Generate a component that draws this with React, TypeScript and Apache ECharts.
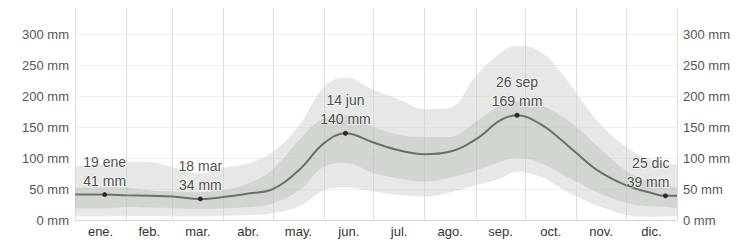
import React, { useEffect, useRef } from "react";
import * as echarts from "echarts";

const monthNames = ["ene.", "feb.", "mar.", "abr.", "may.", "jun.", "jul.", "ago.", "sep.", "oct.", "nov.", "dic."];
const monthStarts = [0, 31, 59, 90, 120, 151, 181, 212, 243, 273, 304, 334, 365];
const yTicks = [0, 50, 100, 150, 200, 250, 300];

const days = [0, 18, 31, 45, 59, 76, 90, 106, 120, 136, 151, 164, 181, 197, 212, 227, 243, 258, 268, 282, 294, 304, 318, 335, 349, 358, 365];
const median = [41, 41, 40, 39, 38, 34, 37, 43, 50, 81, 124, 140, 125, 112, 106, 110, 130, 161, 169, 155, 131, 108, 78, 55, 44, 39, 39];
const p90 = [87, 89, 94, 94, 85, 75, 84, 92, 110, 153, 215, 230, 210, 194, 179, 181, 232, 270, 281, 272, 240, 205, 156, 116, 97, 91, 89];
const p75 = [52, 53, 52, 48, 46, 45, 48, 60, 82, 129, 164, 169, 150, 137, 134, 134, 158, 185, 191, 185, 169, 150, 116, 78, 62, 56, 52];
const p25 = [19, 19, 21, 20, 19, 18, 19, 21, 27, 48, 86, 92, 76, 67, 62, 68, 80, 94, 100, 92, 76, 62, 43, 27, 22, 21, 19];
const p10 = [6, 6, 7, 7, 6, 6, 7, 8, 11, 22, 48, 53, 46, 40, 38, 44, 56, 67, 78, 70, 52, 38, 22, 8, 5, 6, 6];

const annotDays = [18, 76, 164, 268, 358];
const annotDates = ["19 ene", "18 mar", "14 jun", "26 sep", "25 dic"];
const annotValues = [41, 34, 140, 169, 39];

const FONT = "Liberation Sans, Arial, sans-serif";
const DAY_MS = 86400000;
const T0 = Date.UTC(2023, 0, 1);

export default function App() {
  const ref = useRef<HTMLDivElement>(null);
  useEffect(() => {
    if (!ref.current) return;
    const chart = echarts.init(ref.current, null, { renderer: "svg" });
    const tpair = (arr: number[]) => days.map((d, i) => [T0 + d * DAY_MS, arr[i]]);
    const tdiff = (a: number[], b: number[]) => days.map((d, i) => [T0 + d * DAY_MS, a[i] - b[i]]);
    const pair = (arr: number[]) => days.map((d, i) => [d, arr[i]]);
    const monthMids = monthNames.map((_, i) => (monthStarts[i] + monthStarts[i + 1]) / 2);

    const yAxisBase = {
      type: "value",
      min: 0,
      max: 342,
      interval: 50,
      axisLine: { show: false },
      axisTick: { show: false },
      axisLabel: {
        formatter: (v: number) => (yTicks.includes(v) ? `${v} mm` : ""),
        color: "#555",
        fontSize: 13,
        fontFamily: FONT,
        margin: 6,
        showMaxLabel: false,
      },
    };

    const bandCommon = {
      type: "line",
      xAxisIndex: 1,
      smooth: 0.4,
      symbol: "none",
      showSymbol: false,
      lineStyle: { width: 0, opacity: 0 },
      silent: true,
    };

    chart.setOption({
      animation: false,
      grid: { left: 75, right: 76, top: 8, bottom: 22 },
      xAxis: [
        {
          type: "value",
          position: "bottom",
          min: 0,
          max: 365,
          axisLine: { show: true, lineStyle: { color: "#ccc", type: "dotted", width: 1 } },
          axisTick: { show: false, customValues: monthStarts },
          splitLine: { show: true, lineStyle: { color: "#dedede", width: 1 } },
          axisLabel: {
            customValues: monthMids,
            formatter: (v: number) => {
              const i = monthMids.findIndex((m) => Math.abs(m - v) < 0.01);
              return i >= 0 ? monthNames[i] : "";
            },
            color: "#333",
            fontSize: 13,
            fontFamily: FONT,
            margin: 5,
          },
        },
        {
          type: "time",
          position: "bottom",
          min: T0,
          max: T0 + 365 * DAY_MS,
          show: false,
          splitLine: { show: false },
        },
      ],
      yAxis: [
        {
          ...yAxisBase,
          position: "left",
          splitLine: { show: true, showMaxLine: false, lineStyle: { color: "#efefef" } },
        },
        {
          ...yAxisBase,
          position: "right",
          splitLine: { show: false },
        },
      ],
      series: [
        { ...bandCommon, data: tpair(p10), stack: "outer", areaStyle: { opacity: 0 } },
        {
          ...bandCommon,
          data: tdiff(p90, p10),
          stack: "outer",
          areaStyle: { color: "rgba(203,210,201,0.72)" },
        },
        { ...bandCommon, data: tpair(p25), stack: "inner", areaStyle: { opacity: 0 } },
        {
          ...bandCommon,
          data: tdiff(p75, p25),
          stack: "inner",
          areaStyle: { color: "rgba(168,176,166,0.45)" },
        },
        {
          type: "line",
          xAxisIndex: 0,
          data: pair(median),
          smooth: 0.4,
          symbol: "none",
          showSymbol: false,
          lineStyle: { color: "#6b706a", width: 2 },
          silent: true,
        },
        {
          type: "scatter",
          xAxisIndex: 0,
          data: annotDays.map((d, i) => ({
            value: [d, annotValues[i]],
            name: annotDates[i],
            label: i === annotDays.length - 1 ? { align: "right", offset: [4, 0] } : undefined,
          })),
          symbolSize: 5,
          itemStyle: { color: "#111" },
          label: {
            show: true,
            position: "top",
            distance: 2,
            formatter: (p: any) => `${p.name}\n${p.value[1]} mm`,
            color: "#222",
            fontSize: 14,
            lineHeight: 19,
            fontFamily: FONT,
            textBorderColor: "rgba(255,255,255,0.55)",
            textBorderWidth: 2,
          },
          z: 10,
        },
      ],
    });
    return () => chart.dispose();
  }, []);
  return (
    <div
      ref={ref}
      style={{ position: "fixed", left: 0, top: 0, width: 753, height: 242, background: "#fff" }}
    />
  );
}
